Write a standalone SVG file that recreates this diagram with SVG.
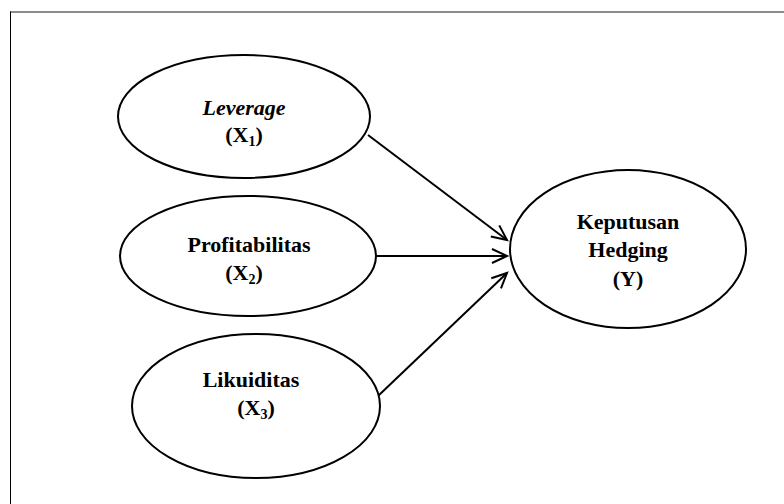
<svg xmlns="http://www.w3.org/2000/svg" width="784" height="504" viewBox="0 0 784 504">
<defs>
<marker id="arr" markerUnits="userSpaceOnUse" markerWidth="20" markerHeight="20" refX="16" refY="8" orient="auto" overflow="visible">
<path d="M1,1 L16,8 L1,15" fill="none" stroke="#000" stroke-width="2"/>
</marker>
<style>
.node ellipse{fill:#fff;stroke:#000;stroke-width:2}
.node text{font-family:"Liberation Serif","Times New Roman",serif;font-weight:bold;font-size:22px;fill:#000;text-anchor:middle}
.conn line{stroke:#000;stroke-width:2;marker-end:url(#arr)}
.sub{font-size:14px}
</style>
</defs>
<rect width="784" height="504" fill="#fff"/>
<g id="frame">
<line x1="10" y1="12" x2="784" y2="12" stroke="#666" stroke-width="1.5"/>
<line x1="10.5" y1="11.5" x2="10.5" y2="504" stroke="#000" stroke-width="1"/>
</g>
<g id="connectors" class="conn">
<line x1="368" y1="135" x2="507" y2="240"/>
<line x1="375" y1="256" x2="507" y2="256"/>
<line x1="378" y1="396" x2="507" y2="273"/>
</g>
<g id="leverage" class="node">
<ellipse cx="244" cy="116.5" rx="126" ry="61.5"/>
<text x="244" y="115" font-style="italic">Leverage</text>
<text x="244" y="142">(X<tspan class="sub" dy="4">1</tspan><tspan dy="-4">)</tspan></text>
</g>
<g id="profitabilitas" class="node">
<ellipse cx="248" cy="256" rx="128" ry="60"/>
<text x="249" y="252">Profitabilitas</text>
<text x="244" y="280">(X<tspan class="sub" dy="4">2</tspan><tspan dy="-4">)</tspan></text>
</g>
<g id="likuiditas" class="node">
<ellipse cx="256" cy="406" rx="124" ry="72"/>
<text x="251" y="387">Likuiditas</text>
<text x="256" y="415">(X<tspan class="sub" dy="4">3</tspan><tspan dy="-4">)</tspan></text>
</g>
<g id="hedging" class="node">
<ellipse cx="628" cy="249" rx="118" ry="79"/>
<text x="628" y="229">Keputusan</text>
<text x="628" y="257">Hedging</text>
<text x="628" y="286">(Y)</text>
</g>
</svg>
